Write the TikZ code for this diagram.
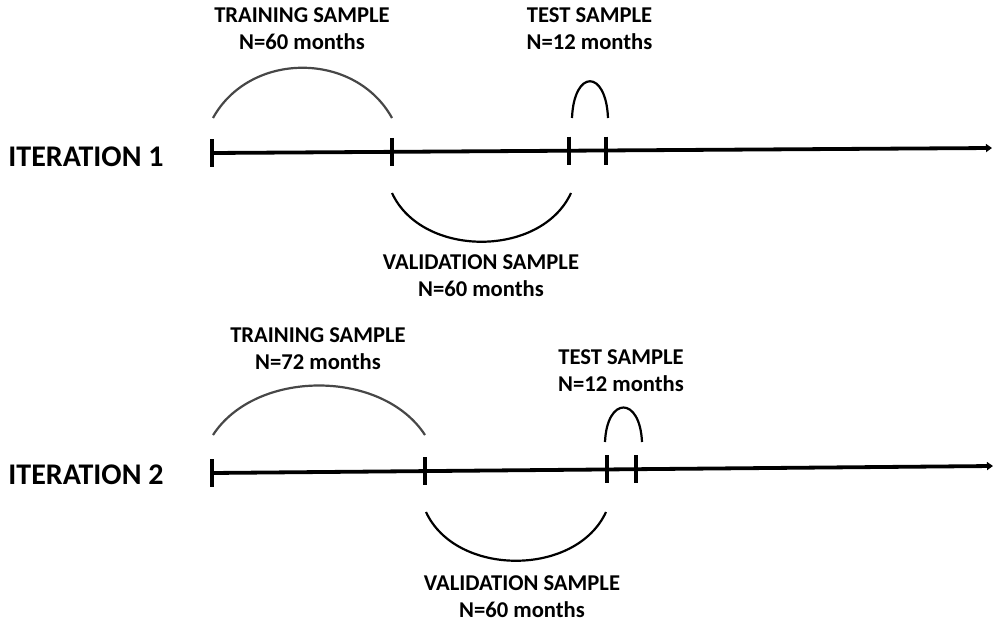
\documentclass[tikz,border=0pt]{standalone}
\usepackage{fontspec}
\setmainfont{Carlito}
\usetikzlibrary{arrows.meta}

\begin{document}
\begin{tikzpicture}[x=0.5pt,y=-0.5pt,
    lbl/.style={font=\bfseries\fontsize{11.3}{13.5}\selectfont, inner sep=0pt, align=center},
    iter/.style={font=\bfseries\fontsize{15}{17}\selectfont, inner sep=0pt, anchor=west},
    axis/.style={line width=1.9pt, -{Triangle[length=3pt,width=4pt]}},
    tickmark/.style={line width=1.7pt},
    bow/.style={line width=1.1pt},
    trainbow/.style={bow, draw=black!72}]
  \useasboundingbox (0,0) rectangle (993,621);

  % Iteration 1
  \node[iter] (it1) at (8,156.5) {ITERATION 1};
  \coordinate (a0) at (212,153);
  \coordinate (a1) at (392,151.8);
  \coordinate (a2) at (569,150.7);
  \coordinate (a3) at (606,150.5);
  \coordinate (aend) at (992,148);
  \draw[axis] (a0) -- (aend);
  \foreach \t in {a0,a1,a2,a3}
    \draw[tickmark] (\t) ++(0,-14) -- ++(0,28);

  % arcs 1
  \coordinate (tr1s) at (213,118);
  \coordinate (tr1e) at (392,118);
  \draw[trainbow] (tr1s) .. controls (250,51) and (355,51) .. (tr1e);
  \coordinate (te1s) at (572,118);
  \coordinate (te1e) at (608,118);
  \draw[bow] (te1s) .. controls (574,69) and (606,69) .. (te1e);
  \coordinate (va1s) at (392,193);
  \coordinate (va1e) at (571,193);
  \draw[bow] (va1s) .. controls (422,258) and (541,258) .. (va1e);

  \node[lbl] (train1) at (302,29) {TRAINING SAMPLE\\N=60 months};
  \node[lbl] (test1) at (589.5,29) {TEST SAMPLE\\N=12 months};
  \node[lbl] (valid1) at (481,275.5) {VALIDATION SAMPLE\\N=60 months};

  % Iteration 2
  \node[iter] (it2) at (8,475) {ITERATION 2};
  \coordinate (b0) at (212,473);
  \coordinate (b1) at (425,471.1);
  \coordinate (b2) at (607,469.4);
  \coordinate (b3) at (636,469.2);
  \coordinate (bend) at (993,466);
  \draw[axis] (b0) -- (bend);
  \foreach \t in {b0,b1,b2,b3}
    \draw[tickmark] (\t) ++(0,-14) -- ++(0,28);

  % arcs 2
  \coordinate (tr2s) at (213,435);
  \coordinate (tr2e) at (425,435);
  \draw[trainbow] (tr2s) .. controls (256,369) and (382,369) .. (tr2e);
  \coordinate (te2s) at (605,442);
  \coordinate (te2e) at (642,442);
  \draw[bow] (te2s) .. controls (607,396) and (640,396) .. (te2e);
  \coordinate (va2s) at (426,512);
  \coordinate (va2e) at (606,512);
  \draw[bow] (va2s) .. controls (456,577) and (576,577) .. (va2e);

  \node[lbl] (train2) at (318,349) {TRAINING SAMPLE\\N=72 months};
  \node[lbl] (test2) at (621,370.5) {TEST SAMPLE\\N=12 months};
  \node[lbl] (valid2) at (522,597) {VALIDATION SAMPLE\\N=60 months};
\end{tikzpicture}
\end{document}
